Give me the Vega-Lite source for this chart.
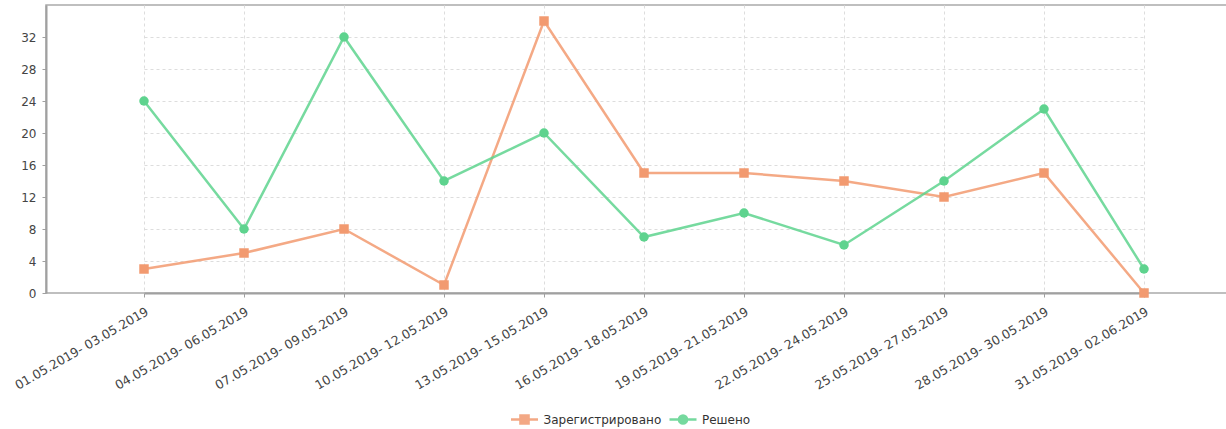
{
  "$schema": "https://vega.github.io/schema/vega-lite/v6.json",
  "width": 1186,
  "height": 288,
  "autosize": "none",
  "padding": {"left": 46, "top": 5, "right": 0, "bottom": 136},
  "background": "white",
  "config": {
    "view": {"stroke": "#aaaaaa", "strokeWidth": 1.5},
    "font": "DejaVu Sans",
    "axis": {
      "labelFont": "DejaVu Sans",
      "labelFontSize": 12,
      "labelColor": "#444444",
      "domainColor": "#a0a0a0",
      "domainWidth": 2,
      "tickColor": "#a0a0a0",
      "tickSize": 4,
      "gridColor": "#dddddd",
      "gridDash": [3, 3],
      "gridWidth": 1
    },
    "legend": {
      "labelFont": "DejaVu Sans",
      "labelFontSize": 12,
      "labelColor": "#333333",
      "labelOffset": 8.5,
      "symbolSize": 324,
      "symbolStrokeWidth": 2.5,
      "orient": "none",
      "direction": "horizontal",
      "title": null
    }
  },
  "data": {
    "values": [
      {"period": "01.05.2019- 03.05.2019", "series": "Зарегистрировано", "value": 3},
      {"period": "04.05.2019- 06.05.2019", "series": "Зарегистрировано", "value": 5},
      {"period": "07.05.2019- 09.05.2019", "series": "Зарегистрировано", "value": 8},
      {"period": "10.05.2019- 12.05.2019", "series": "Зарегистрировано", "value": 1},
      {"period": "13.05.2019- 15.05.2019", "series": "Зарегистрировано", "value": 34},
      {"period": "16.05.2019- 18.05.2019", "series": "Зарегистрировано", "value": 15},
      {"period": "19.05.2019- 21.05.2019", "series": "Зарегистрировано", "value": 15},
      {"period": "22.05.2019- 24.05.2019", "series": "Зарегистрировано", "value": 14},
      {"period": "25.05.2019- 27.05.2019", "series": "Зарегистрировано", "value": 12},
      {"period": "28.05.2019- 30.05.2019", "series": "Зарегистрировано", "value": 15},
      {"period": "31.05.2019- 02.06.2019", "series": "Зарегистрировано", "value": 0},
      {"period": "01.05.2019- 03.05.2019", "series": "Решено", "value": 24},
      {"period": "04.05.2019- 06.05.2019", "series": "Решено", "value": 8},
      {"period": "07.05.2019- 09.05.2019", "series": "Решено", "value": 32},
      {"period": "10.05.2019- 12.05.2019", "series": "Решено", "value": 14},
      {"period": "13.05.2019- 15.05.2019", "series": "Решено", "value": 20},
      {"period": "16.05.2019- 18.05.2019", "series": "Решено", "value": 7},
      {"period": "19.05.2019- 21.05.2019", "series": "Решено", "value": 10},
      {"period": "22.05.2019- 24.05.2019", "series": "Решено", "value": 6},
      {"period": "25.05.2019- 27.05.2019", "series": "Решено", "value": 14},
      {"period": "28.05.2019- 30.05.2019", "series": "Решено", "value": 23},
      {"period": "31.05.2019- 02.06.2019", "series": "Решено", "value": 3}
    ]
  },
  "encoding": {
    "x": {
      "field": "period",
      "type": "ordinal",
      "sort": null,
      "scale": {"type": "point", "range": [98, 1098], "padding": 0},
      "axis": {
        "title": null,
        "labelAngle": -30,
        "labelAlign": "right",
        "labelBaseline": "top",
        "labelPadding": 8,
        "labelFontSize": 12.5,
        "grid": true,
        "labelOverlap": false
      }
    },
    "y": {
      "field": "value",
      "type": "quantitative",
      "scale": {"domain": [0, 36], "nice": false},
      "axis": {
        "title": null,
        "values": [0, 4, 8, 12, 16, 20, 24, 28, 32],
        "grid": true,
        "labelPadding": 6
      }
    }
  },
  "layer": [
    {
      "transform": [{"filter": "datum.series === 'Зарегистрировано'"}],
      "encoding": {
        "color": {
          "field": "series",
          "type": "nominal",
          "scale": {"domain": ["Зарегистрировано"], "range": ["#F29A70"]},
          "legend": {
            "legendX": 468,
            "legendY": 404,
            "symbolType": "M-1.5,0H-0.45V-0.45H0.45V0H1.5M0.45,0V0.45H-0.45V0Z",
            "symbolFillColor": "#F29A70",
            "symbolStrokeColor": "#F29A70"
          }
        }
      },
      "layer": [
        {"mark": {"type": "line", "strokeWidth": 2.5, "opacity": 0.85}},
        {"mark": {"type": "point", "shape": "square", "filled": true, "size": 90, "opacity": 1}}
      ]
    },
    {
      "transform": [{"filter": "datum.series === 'Решено'"}],
      "encoding": {
        "color": {
          "field": "series",
          "type": "nominal",
          "scale": {"domain": ["Решено"], "range": ["#5ED38E"]},
          "legend": {
            "legendX": 626.5,
            "legendY": 404,
            "symbolType": "M-1.5,0H-0.45A0.45,0.45,0,1,1,0.45,0H1.5M0.45,0A0.45,0.45,0,1,1,-0.45,0Z",
            "symbolFillColor": "#5ED38E",
            "symbolStrokeColor": "#5ED38E"
          }
        }
      },
      "layer": [
        {"mark": {"type": "line", "strokeWidth": 2.5, "opacity": 0.85}},
        {"mark": {"type": "point", "shape": "circle", "filled": true, "size": 90, "opacity": 1}}
      ]
    }
  ],
  "resolve": {"scale": {"color": "independent"}, "legend": {"color": "independent"}}
}
